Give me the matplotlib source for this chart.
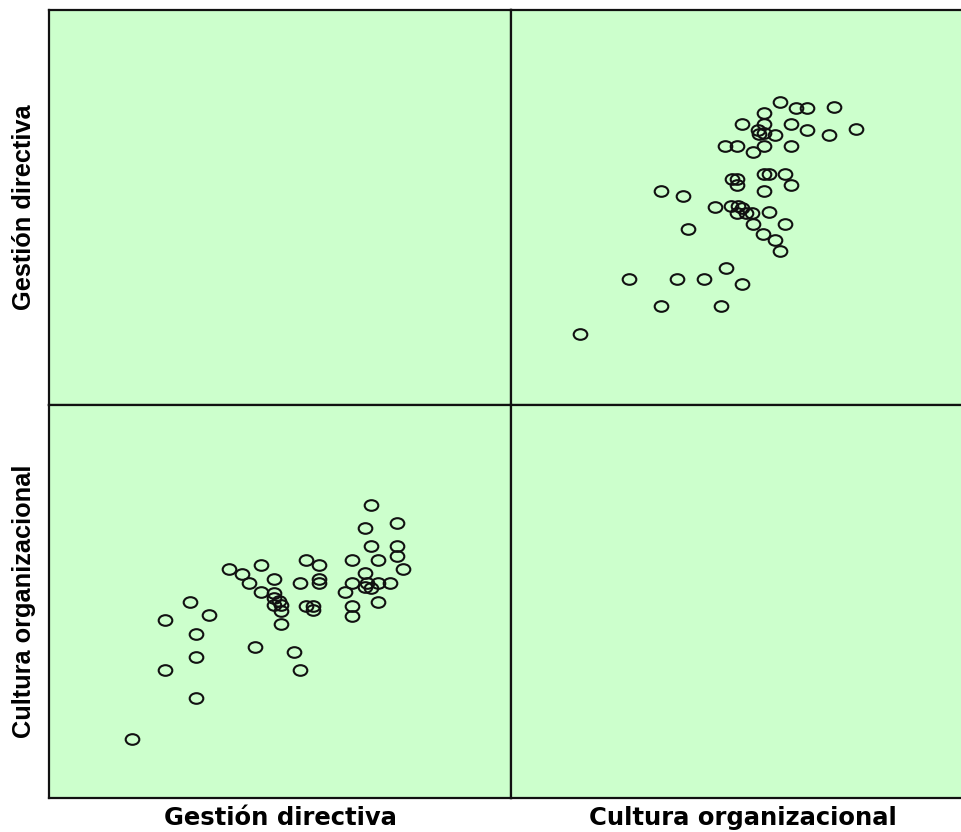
import numpy as np
import matplotlib
matplotlib.use("Agg")
import matplotlib.pyplot as plt
from matplotlib.path import Path
from matplotlib.transforms import Affine2D

# Data: paired scores (one point per respondent)
gestion = [69.8, 75.4, 68.3, 69.7, 75.3, 75.3, 76.7, 71.2, 65.5, 55.7,
           58.5, 45.9, 38.9, 41.8, 43.2, 48.8, 58.5, 58.5, 54.3, 68.4,
           65.5, 71.2, 73.9, 68.5, 69.7, 64.1, 45.9, 48.7, 48.7, 48.7,
           50.3, 50.3, 55.7, 57.2, 57.2, 65.5, 65.5, 71.2, 30.6, 34.7,
           25.0, 31.9, 50.2, 31.9, 44.6, 53.0, 25.0, 54.3, 31.9, 18.0,
           68.8, 49.8]
cultura = [74.6, 69.9, 68.8, 64.1, 64.1, 61.6, 58.2, 60.5, 60.5, 60.5,
           59.3, 59.3, 58.2, 57.1, 54.6, 55.8, 55.8, 54.7, 54.7, 57.2,
           54.8, 54.8, 54.7, 53.7, 53.5, 52.3, 52.3, 52.2, 50.9, 49.0,
           49.1, 47.6, 48.9, 48.9, 47.8, 48.9, 46.4, 50.0, 49.9, 46.5,
           45.4, 41.8, 44.2, 36.0, 38.4, 37.2, 32.5, 32.5, 25.5, 15.0,
           54.8, 50.1]
variables = ["Gestión directiva", "Cultura organizacional"]
data = {"Gestión directiva": gestion, "Cultura organizacional": cultura}

W, H = 961, 832
fig = plt.figure(figsize=(W / 100, H / 100), dpi=100)

bg = "#CCFFCC"
left_px, mid_x, right_px = 49, 511, 973
top_px, mid_y, bot_px = 10, 405, 798

ell = Path.unit_circle().transformed(Affine2D().scale(1.0, 0.78))

cols = [(left_px, mid_x), (mid_x, right_px)]
rows = [(top_px, mid_y), (mid_y, bot_px)]

for i, yv in enumerate(variables):
    for j, xv in enumerate(variables):
        x0, x1 = cols[j]
        y0, y1 = rows[i]
        ax = fig.add_axes([x0 / W, 1 - y1 / H, (x1 - x0) / W, (y1 - y0) / H])
        ax.set_facecolor(bg)
        ax.set_xlim(0, 100)
        ax.set_ylim(0, 100)
        ax.set_xticks([])
        ax.set_yticks([])
        for s in ax.spines.values():
            s.set_linewidth(1.6)
            s.set_color("#111111")
        if i != j:
            ax.plot(data[xv], data[yv], linestyle="none", marker=ell,
                    markersize=9.8, markerfacecolor="none",
                    markeredgecolor="#111111", markeredgewidth=1.5)

# Row labels (vertical)
for i, v in enumerate(variables):
    y0, y1 = rows[i]
    fig.text(24 / W, 1 - (y0 + y1) / 2 / H, v, rotation=90,
             ha="center", va="center", fontsize=18.3,
             fontweight="bold", family="Liberation Sans")

# Column labels (horizontal)
for j, v in enumerate(variables):
    x0, x1 = cols[j]
    xc = (x0 + x1) / 2 if j == 0 else 743
    fig.text(xc / W, 1 - 818 / H, v, ha="center", va="center",
             fontsize=17.5, fontweight="bold", family="DejaVu Sans")

fig.savefig("out.png", dpi=100, facecolor="white")
